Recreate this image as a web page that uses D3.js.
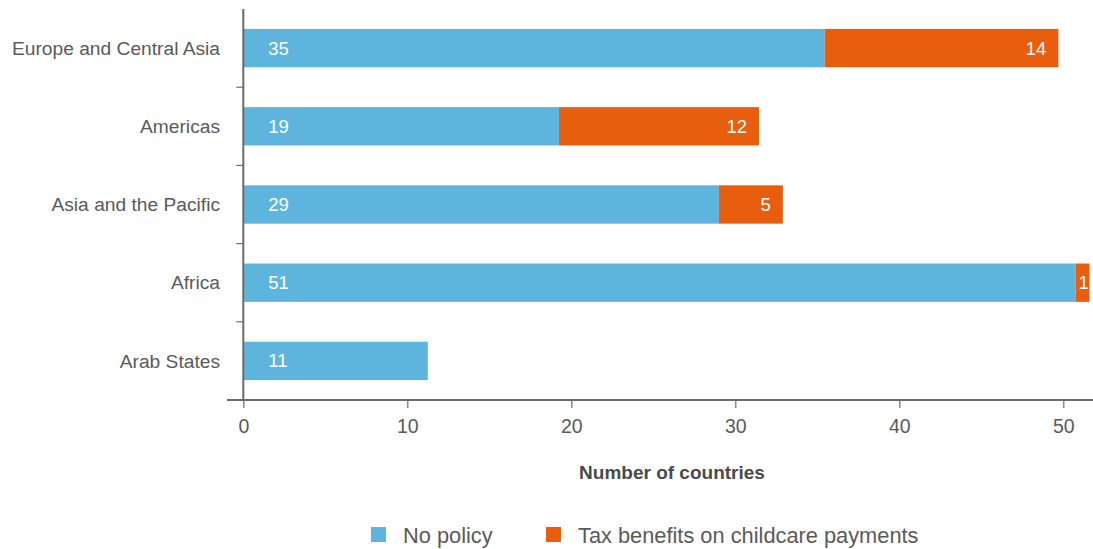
<!DOCTYPE html>
<html>
<head>
<meta charset="utf-8">
<script src="https://cdn.jsdelivr.net/npm/d3@7"></script>
<style>
  html, body { margin: 0; padding: 0; background: #fff; }
  svg { display: block; font-family: "Liberation Sans", Arial, sans-serif; }
</style>
</head>
<body>
<svg id="chart" width="1093" height="549"></svg>
<script>
// ---- Data ----
const categories = ["Europe and Central Asia", "Americas", "Asia and the Pacific", "Africa", "Arab States"];
const seriesNames = ["No policy", "Tax benefits on childcare payments"];
// bar lengths as drawn in the reference
const noPolicy = [35.45, 19.25, 29.0, 50.75, 11.25];
const taxBenefits = [14.25, 12.2, 3.9, 0.85, 0];
// value labels printed on the bars
const noPolicyLabels = [35, 19, 29, 51, 11];
const taxBenefitsLabels = [14, 12, 5, 1, null];
const xTicks = [0, 10, 20, 30, 40, 50];
const xTitle = "Number of countries";

const colors = ["#5db5de", "#e85d0e"];
const axisColor = "#6b6b6b";
const textColor = "#5a5a5a";

const svg = d3.select("#chart");

const x = d3.scaleLinear().domain([0, 50]).range([243.3, 1063.3]);
const y = d3.scaleBand().domain(categories).range([9, 400]).paddingInner(0.51).paddingOuter(0.255);

const rows = categories.map((c, i) => ({
  cat: c,
  segs: [
    { s: 0, v0: 0, v1: noPolicy[i], label: noPolicyLabels[i] },
    { s: 1, v0: noPolicy[i], v1: noPolicy[i] + taxBenefits[i], label: taxBenefitsLabels[i] }
  ]
}));

// bars
const g = svg.append("g");
rows.forEach(r => {
  r.segs.forEach(sg => {
    if (sg.v1 - sg.v0 <= 0) return;
    g.append("rect")
      .attr("x", x(sg.v0))
      .attr("y", y(r.cat))
      .attr("width", x(sg.v1) - x(sg.v0))
      .attr("height", y.bandwidth())
      .attr("fill", colors[sg.s]);
  });
});

// value labels
rows.forEach(r => {
  const cy = y(r.cat) + y.bandwidth() / 2;
  r.segs.forEach(sg => {
    if (sg.label == null) return;
    const w = x(sg.v1) - x(sg.v0);
    let tx, anchor;
    if (sg.s === 0) { tx = x(sg.v0) + 25; anchor = "start"; }
    else if (w < 30) { tx = (x(sg.v0) + x(sg.v1)) / 2 + 1; anchor = "middle"; }
    else { tx = x(sg.v1) - 12; anchor = "end"; }
    svg.append("text")
      .attr("x", tx).attr("y", cy)
      .attr("dy", "0.35em")
      .attr("text-anchor", anchor)
      .attr("fill", "#ffffff")
      .attr("font-size", 18.5)
      .text(sg.label);
  });
});

// y axis line
svg.append("line")
  .attr("x1", x(0)).attr("x2", x(0))
  .attr("y1", 9).attr("y2", 400)
  .attr("stroke", axisColor).attr("stroke-width", 2);

// y ticks at band boundaries
const boundaries = categories.slice(1).map(c => y(c) - (y.step() - y.bandwidth()) / 2);
svg.selectAll(".ytick").data(boundaries).enter().append("line")
  .attr("x1", x(0) - 7).attr("x2", x(0))
  .attr("y1", d => d).attr("y2", d => d)
  .attr("stroke", axisColor).attr("stroke-width", 1.2);

// category labels
svg.selectAll(".ylab").data(categories).enter().append("text")
  .attr("x", 220)
  .attr("y", d => y(d) + y.bandwidth() / 2)
  .attr("dy", "0.35em")
  .attr("text-anchor", "end")
  .attr("fill", textColor)
  .attr("font-size", 19.2)
  .text(d => d);

// x axis
const xAxis = d3.axisBottom(x).tickValues(xTicks).tickSize(8).tickPadding(11).tickSizeOuter(0);
const xg = svg.append("g").attr("transform", "translate(0,400)").call(xAxis);
xg.select(".domain").remove();
xg.append("line")
  .attr("x1", 227).attr("x2", 1093).attr("y1", 0).attr("y2", 0)
  .attr("stroke", axisColor).attr("stroke-width", 2.2);
xg.selectAll(".tick line").attr("stroke", axisColor).attr("stroke-width", 1.2);
xg.selectAll(".tick text")
  .attr("fill", textColor)
  .attr("font-size", 19.5)
  .attr("font-family", "Liberation Sans, Arial, sans-serif");

// x title
svg.append("text")
  .attr("x", 672).attr("y", 479)
  .attr("text-anchor", "middle")
  .attr("fill", "#4a4a4a")
  .attr("font-size", 19)
  .attr("font-weight", "bold")
  .text(xTitle);

// legend
const legendX = [371, 546];
seriesNames.forEach((n, i) => {
  svg.append("rect")
    .attr("x", legendX[i]).attr("y", 527)
    .attr("width", 15).attr("height", 15)
    .attr("fill", colors[i]);
  svg.append("text")
    .attr("x", legendX[i] + 32).attr("y", 543)
    .attr("fill", textColor)
    .attr("font-size", 21.8)
    .text(n);
});
</script>
</body>
</html>
